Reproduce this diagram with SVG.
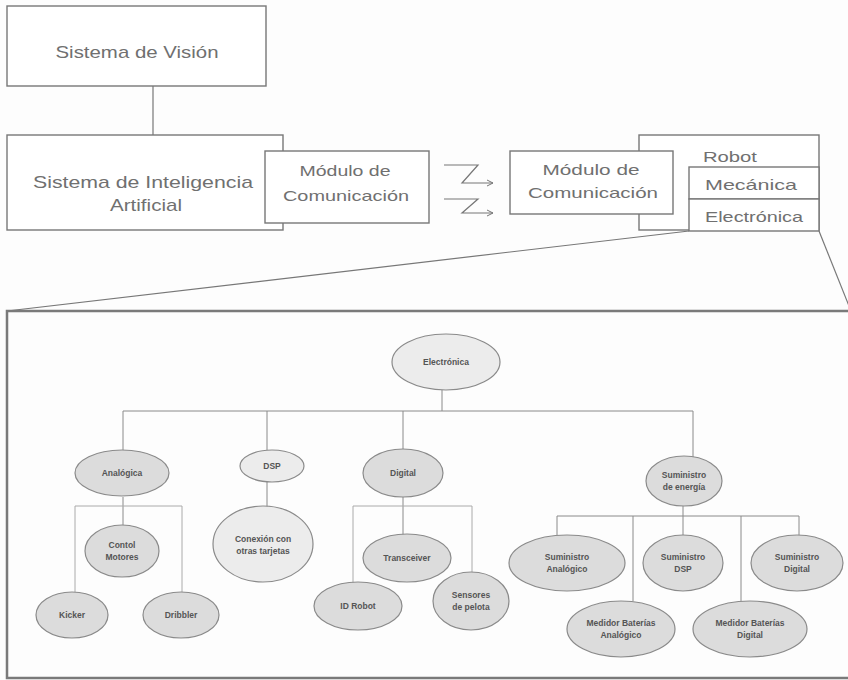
<svg xmlns="http://www.w3.org/2000/svg" width="848" height="680" viewBox="0 0 848 680">
  <defs>
    <marker id="open-arrow" markerWidth="8" markerHeight="8" refX="7" refY="4" orient="auto" markerUnits="userSpaceOnUse">
      <polyline points="1,1 7,4 1,7" fill="none" stroke="#777" stroke-width="1"/>
    </marker>
  </defs>
  <style>
    .box { fill: #fff; stroke: #777; stroke-width: 1.4; }
    .lbl { font-family: "Liberation Sans", Arial, sans-serif; fill: #707070; }
    .big { font-size: 17px; }
    .mid { font-size: 15px; }
    .link { fill: none; stroke: #777; stroke-width: 1.2; }
    .frame { fill: none; stroke: #7a7a7a; stroke-width: 2.5; }
    .ell { fill: #dcdcdc; stroke: #8a8a8a; stroke-width: 1.2; }
    .ell-lt { fill: #ececec; stroke: #8a8a8a; stroke-width: 1.2; }
    .tl { font-family: "Liberation Sans", Arial, sans-serif; font-size: 8.5px; font-weight: bold; fill: #555; text-anchor: middle; }
    .tree { fill: none; stroke: #8a8a8a; stroke-width: 1; }
    .tree-lt { fill: none; stroke: #aaa; stroke-width: 1; }
  </style>

  <rect width="848" height="680" fill="#fdfdfd"/>

  <!-- upper system blocks -->
  <g id="connectors">
    <line class="link" x1="153" y1="86" x2="153" y2="135"/>
    <!-- wireless links -->
    <polyline class="link" points="444,165 478,165 462,183 493,183" marker-end="url(#open-arrow)"/>
    <polyline class="link" points="444,199 478,199 462,213 493,213" marker-end="url(#open-arrow)"/>
    <!-- zoom lines from Electrónica to detail frame -->
    <line class="link" x1="689" y1="231" x2="7" y2="311"/>
    <line class="link" x1="819" y1="231" x2="851" y2="311"/>
  </g>

  <g id="vision">
    <rect class="box" x="7" y="6" width="259" height="80"/>
    <text class="lbl big" x="137" y="58" text-anchor="middle" textLength="163" lengthAdjust="spacingAndGlyphs">Sistema de Visión</text>
  </g>

  <g id="ia">
    <rect class="box" x="7" y="135" width="276" height="95"/>
    <text class="lbl big" x="143" y="188" text-anchor="middle" textLength="220" lengthAdjust="spacingAndGlyphs">Sistema de Inteligencia</text>
    <text class="lbl big" x="146" y="211" text-anchor="middle" textLength="72" lengthAdjust="spacingAndGlyphs">Artificial</text>
  </g>

  <g id="modulo-ia">
    <rect class="box" x="265" y="151" width="164" height="72"/>
    <text class="lbl mid" x="345" y="176" text-anchor="middle" textLength="91" lengthAdjust="spacingAndGlyphs">Módulo de</text>
    <text class="lbl mid" x="346" y="201" text-anchor="middle" textLength="126" lengthAdjust="spacingAndGlyphs">Comunicación</text>
  </g>

  <g id="robot">
    <rect class="box" x="639" y="135" width="180" height="95"/>
    <text class="lbl mid" x="703" y="162" textLength="54" lengthAdjust="spacingAndGlyphs">Robot</text>
  </g>

  <g id="modulo-robot">
    <rect class="box" x="510" y="151" width="163" height="63"/>
    <text class="lbl mid" x="591" y="175" text-anchor="middle" textLength="97" lengthAdjust="spacingAndGlyphs">Módulo de</text>
    <text class="lbl mid" x="593" y="198" text-anchor="middle" textLength="130" lengthAdjust="spacingAndGlyphs">Comunicación</text>
  </g>

  <g id="mecanica">
    <rect class="box" x="689" y="167" width="130" height="32"/>
    <text class="lbl mid" x="705" y="190" textLength="92" lengthAdjust="spacingAndGlyphs">Mecánica</text>
  </g>

  <g id="electronica">
    <rect class="box" x="689" y="199" width="130" height="32"/>
    <text class="lbl mid" x="705" y="222" textLength="98" lengthAdjust="spacingAndGlyphs">Electrónica</text>
  </g>

  <!-- detail frame -->
  <rect class="frame" x="7" y="311" width="845" height="367"/>

  <g id="tree-links">
    <line class="tree" x1="442" y1="390" x2="442" y2="411"/>
    <line class="tree" x1="123" y1="411" x2="693" y2="411"/>
    <line class="tree" x1="123" y1="411" x2="123" y2="450"/>
    <line class="tree" x1="267" y1="411" x2="267" y2="450"/>
    <line class="tree" x1="403" y1="411" x2="403" y2="449"/>
    <line class="tree" x1="693" y1="411" x2="693" y2="457"/>
    <!-- Analógica branch -->
    <line class="tree" x1="123" y1="497" x2="123" y2="525"/>
    <polyline class="tree-lt" points="75,592 75,506 182,506 182,592"/>
    <!-- DSP branch -->
    <line class="tree" x1="267" y1="482" x2="267" y2="507"/>
    <!-- Digital branch -->
    <line class="tree" x1="403" y1="497" x2="403" y2="535"/>
    <polyline class="tree-lt" points="353,583 353,506 472,506 472,573"/>
    <!-- power branch -->
    <line class="tree" x1="683" y1="506" x2="683" y2="516"/>
    <line class="tree" x1="557" y1="516" x2="799" y2="516"/>
    <line class="tree" x1="557" y1="516" x2="557" y2="535"/>
    <line class="tree" x1="633" y1="516" x2="633" y2="601"/>
    <line class="tree" x1="683" y1="516" x2="683" y2="535"/>
    <line class="tree" x1="741" y1="516" x2="741" y2="601"/>
    <line class="tree" x1="799" y1="516" x2="799" y2="535"/>
  </g>

  <g id="n-electronica">
    <ellipse class="ell-lt" cx="446" cy="362" rx="54" ry="28"/>
    <text class="tl" x="446" y="365">Electrónica</text>
  </g>
  <g id="n-analogica">
    <ellipse class="ell" cx="122" cy="473" rx="47" ry="23"/>
    <text class="tl" x="122" y="476">Analógica</text>
  </g>
  <g id="n-dsp">
    <ellipse class="ell-lt" cx="272" cy="466" rx="32" ry="16"/>
    <text class="tl" x="272" y="469">DSP</text>
  </g>
  <g id="n-conexion">
    <ellipse class="ell-lt" cx="263" cy="544" rx="50" ry="38"/>
    <text class="tl" x="263" y="542">Conexión con</text>
    <text class="tl" x="263" y="554">otras tarjetas</text>
  </g>
  <g id="n-motores">
    <ellipse class="ell" cx="122" cy="551" rx="37" ry="26"/>
    <text class="tl" x="122" y="548">Contol</text>
    <text class="tl" x="122" y="560">Motores</text>
  </g>
  <g id="n-kicker">
    <ellipse class="ell" cx="72" cy="615" rx="36" ry="23"/>
    <text class="tl" x="72" y="618">Kicker</text>
  </g>
  <g id="n-dribbler">
    <ellipse class="ell" cx="181" cy="615" rx="38" ry="23"/>
    <text class="tl" x="181" y="618">Dribbler</text>
  </g>
  <g id="n-digital">
    <ellipse class="ell" cx="403" cy="473" rx="40" ry="24"/>
    <text class="tl" x="403" y="476">Digital</text>
  </g>
  <g id="n-transceiver">
    <ellipse class="ell" cx="407" cy="558" rx="44" ry="24"/>
    <text class="tl" x="407" y="561">Transceiver</text>
  </g>
  <g id="n-idrobot">
    <ellipse class="ell" cx="358" cy="606" rx="44" ry="24"/>
    <text class="tl" x="358" y="609">ID Robot</text>
  </g>
  <g id="n-sensores">
    <ellipse class="ell" cx="471" cy="601" rx="38" ry="29"/>
    <text class="tl" x="471" y="598">Sensores</text>
    <text class="tl" x="471" y="610">de pelota</text>
  </g>
  <g id="n-energia">
    <ellipse class="ell" cx="684" cy="481" rx="38" ry="25"/>
    <text class="tl" x="684" y="478">Suministro</text>
    <text class="tl" x="684" y="490">de energía</text>
  </g>
  <g id="n-sum-analogico">
    <ellipse class="ell" cx="567" cy="563" rx="58" ry="28"/>
    <text class="tl" x="567" y="560">Suministro</text>
    <text class="tl" x="567" y="572">Analógico</text>
  </g>
  <g id="n-sum-dsp">
    <ellipse class="ell" cx="683" cy="563" rx="40" ry="28"/>
    <text class="tl" x="683" y="560">Suministro</text>
    <text class="tl" x="683" y="572">DSP</text>
  </g>
  <g id="n-sum-digital">
    <ellipse class="ell" cx="797" cy="563" rx="46" ry="28"/>
    <text class="tl" x="797" y="560">Suministro</text>
    <text class="tl" x="797" y="572">Digital</text>
  </g>
  <g id="n-med-analogico">
    <ellipse class="ell" cx="621" cy="629" rx="54" ry="28"/>
    <text class="tl" x="621" y="626">Medidor Baterías</text>
    <text class="tl" x="621" y="638">Analógico</text>
  </g>
  <g id="n-med-digital">
    <ellipse class="ell" cx="750" cy="629" rx="57" ry="28"/>
    <text class="tl" x="750" y="626">Medidor Baterías</text>
    <text class="tl" x="750" y="638">Digital</text>
  </g>
</svg>
